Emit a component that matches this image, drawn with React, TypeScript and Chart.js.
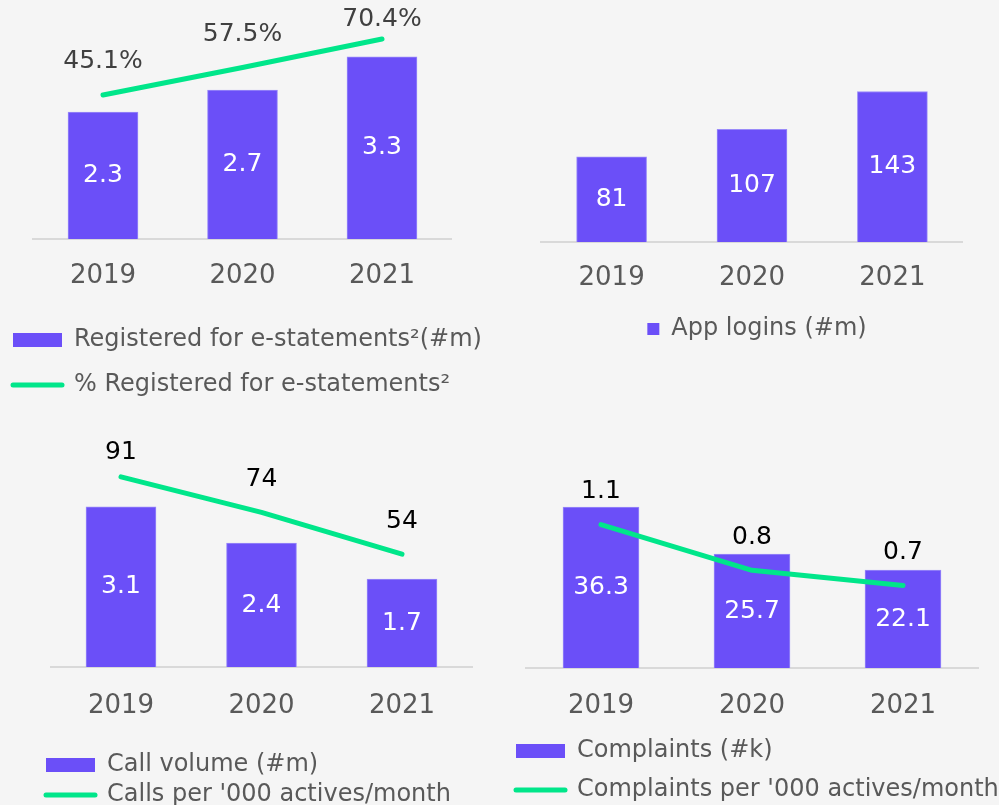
import React, { useEffect, useRef } from 'react';
import { Chart, registerables } from 'chart.js';

Chart.register(...registerables);

// ---------- data ----------
const years = ['2019', '2020', '2021'];

const eStatementsRegistered = [2.3, 2.7, 3.3]; // #m
const eStatementsPct = [45.1, 57.5, 70.4]; // %

const appLogins = [81, 107, 143]; // #m

const callVolume = [3.1, 2.4, 1.7]; // #m
const callsPerThousand = [91, 74, 54];

const complaints = [36.3, 25.7, 22.1]; // #k
const complaintsPerThousand = [1.1, 0.8, 0.7];

// ---------- style ----------
const BAR = '#6b4ff8';
const BAR_EDGE = '#9a8bf9';
const GREEN = '#00e68a';
const BG = '#f5f5f5';
const GREY = '#595959';
const FONT = "'DejaVu Sans', Verdana, sans-serif";

const valueLabels = {
  id: 'valueLabels',
  afterDatasetsDraw(chart: any, _args: any, opts: any) {
    const ctx = chart.ctx;
    ctx.save();
    ctx.font = `25px ${FONT}`;
    ctx.textAlign = 'center';
    ctx.textBaseline = 'middle';
    chart.data.datasets.forEach((ds: any, i: number) => {
      const meta = chart.getDatasetMeta(i);
      meta.data.forEach((el: any, j: number) => {
        const v = ds.data[j];
        if (ds.type === 'line') {
          ctx.fillStyle = opts.lineColor;
          const y = Math.max(el.y - opts.lineOffset, chart.chartArea.top + opts.minTop);
          ctx.fillText(opts.lineFormat(v), el.x, y);
        } else {
          ctx.fillStyle = '#ffffff';
          ctx.fillText(opts.barFormat(v), el.x, (el.y + el.base) / 2);
        }
      });
    });
    ctx.restore();
  },
};

interface PanelProps {
  left: number;
  top: number;
  width: number;
  height: number;
  barLabel: string;
  barData: number[];
  barMax: number;
  barThickness: number;
  barFormat: (v: number) => string;
  lineLabel?: string;
  lineData?: number[];
  lineMin?: number;
  lineMax?: number;
  lineFormat?: (v: number) => string;
  lineColor?: string;
  yWidth: number;
  y1Width: number;
  tickPadding: number;
  axisHeight: number;
  legendPadding: number;
  legendAlign: 'start' | 'center';
  boxW: number;
  boxH: number;
}

function Panel(p: PanelProps) {
  const ref = useRef<HTMLCanvasElement>(null);
  useEffect(() => {
    if (!ref.current) return;
    const datasets: any[] = [
      {
        type: 'bar',
        label: p.barLabel,
        data: p.barData,
        yAxisID: 'y',
        backgroundColor: BAR,
        borderColor: BAR_EDGE,
        borderWidth: 1,
        barThickness: p.barThickness,
        order: 2,
      },
    ];
    if (p.lineData) {
      datasets.push({
        type: 'line',
        label: p.lineLabel,
        data: p.lineData,
        yAxisID: 'y1',
        borderColor: GREEN,
        borderWidth: 5,
        borderCapStyle: 'round',
        borderJoinStyle: 'round',
        pointRadius: 0,
        tension: 0,
        order: 1,
      });
    }
    const hiddenAxis = (w: number, pos: string, min: number, max: number) => ({
      position: pos,
      min,
      max,
      display: true,
      grid: { display: false, drawTicks: false },
      border: { display: false },
      ticks: { display: false },
      afterFit: (s: any) => {
        s.width = w;
      },
    });
    const chart = new Chart(ref.current, {
      type: 'bar',
      data: { labels: years, datasets },
      options: {
        responsive: false,
        animation: false,
        devicePixelRatio: 1,
        layout: { padding: 0 },
        scales: {
          x: {
            type: 'category',
            offset: true,
            grid: { display: false, drawTicks: false },
            border: { display: true, color: '#d9d9d9', width: 2 },
            ticks: {
              color: GREY,
              padding: p.tickPadding,
              font: { family: FONT, size: 26, lineHeight: '30px' },
            },
            afterFit: (s: any) => {
              s.height = p.axisHeight;
            },
          },
          y: hiddenAxis(p.yWidth, 'left', 0, p.barMax) as any,
          y1: hiddenAxis(p.y1Width, 'right', p.lineMin ?? 0, p.lineMax ?? 1) as any,
        },
        plugins: {
          tooltip: { enabled: false },
          legend: {
            display: true,
            position: 'bottom',
            align: p.legendAlign,
            labels: {
              usePointStyle: true,
              pointStyleWidth: p.boxW,
              boxHeight: p.boxH,
              padding: p.legendPadding,
              color: GREY,
              font: { family: FONT, size: 24 },
              generateLabels: (c: any) =>
                c.data.datasets.map((ds: any, i: number) => ({
                  text: ds.label,
                  datasetIndex: i,
                  hidden: false,
                  fillStyle: ds.type === 'line' ? GREEN : BAR,
                  strokeStyle: GREEN,
                  lineWidth: ds.type === 'line' ? 5 : 0,
                  lineCap: 'round',
                  pointStyle: ds.type === 'line' ? 'line' : 'rect',
                  fontColor: GREY,
                })),
            },
          },
          valueLabels: {
            barFormat: p.barFormat,
            lineFormat: p.lineFormat ?? ((v: number) => String(v)),
            lineColor: p.lineColor ?? '#000',
            lineOffset: 33,
            minTop: 19,
          },
        } as any,
      },
      plugins: [valueLabels],
    } as any);
    return () => chart.destroy();
  }, []);
  return (
    <canvas
      ref={ref}
      width={p.width}
      height={p.height}
      style={{ position: 'absolute', left: p.left, top: p.top, width: p.width, height: p.height }}
    />
  );
}

export default function App() {
  return (
    <div
      style={{
        position: 'fixed',
        left: 0,
        top: 0,
        width: 999,
        height: 805,
        overflow: 'hidden',
        background: BG,
      }}
    >
      <Panel
        left={-8}
        top={0}
        width={503}
        height={407}
        barLabel={'Registered for e-statements\u00b2(#m)'}
        barData={eStatementsRegistered}
        barMax={4.33}
        barThickness={70}
        barFormat={(v) => v.toFixed(1)}
        lineLabel={'% Registered for e-statements\u00b2'}
        lineData={eStatementsPct}
        lineMin={-20}
        lineMax={88}
        lineFormat={(v) => v.toFixed(1) + '%'}
        lineColor={'#404040'}
        yWidth={41.25}
        y1Width={43.25}
        tickPadding={22}
        axisHeight={68}
        legendPadding={21}
        legendAlign="start"
        boxW={49}
        boxH={14}
      />
      <Panel
        left={515}
        top={0}
        width={484}
        height={351}
        barLabel={'App logins (#m)'}
        barData={appLogins}
        barMax={230}
        barThickness={70}
        barFormat={(v) => String(v)}
        yWidth={26.4}
        y1Width={36.4}
        tickPadding={21.5}
        axisHeight={65}
        legendPadding={10}
        legendAlign="center"
        boxW={12}
        boxH={12}
      />
      <Panel
        left={40}
        top={433}
        width={460}
        height={384}
        barLabel={'Call volume (#m)'}
        barData={callVolume}
        barMax={4.53}
        barThickness={70}
        barFormat={(v) => v.toFixed(1)}
        lineLabel={"Calls per '000 actives/month"}
        lineData={callsPerThousand}
        lineMin={0}
        lineMax={112}
        lineFormat={(v) => String(v)}
        lineColor={'#000000'}
        yWidth={10.75}
        y1Width={27.75}
        tickPadding={24}
        axisHeight={80}
        legendPadding={6}
        legendAlign="start"
        boxW={49}
        boxH={14}
      />
      <Panel
        left={501}
        top={433}
        width={498}
        height={379}
        barLabel={'Complaints (#k)'}
        barData={complaints}
        barMax={53}
        barThickness={76}
        barFormat={(v) => v.toFixed(1)}
        lineLabel={"Complaints per '000 actives/month"}
        lineData={complaintsPerThousand}
        lineMin={0.16}
        lineMax={1.7}
        lineFormat={(v) => v.toFixed(1)}
        lineColor={'#000000'}
        yWidth={24.5}
        y1Width={20.5}
        tickPadding={23.5}
        axisHeight={56}
        legendPadding={15}
        legendAlign="start"
        boxW={49}
        boxH={14}
      />
    </div>
  );
}
